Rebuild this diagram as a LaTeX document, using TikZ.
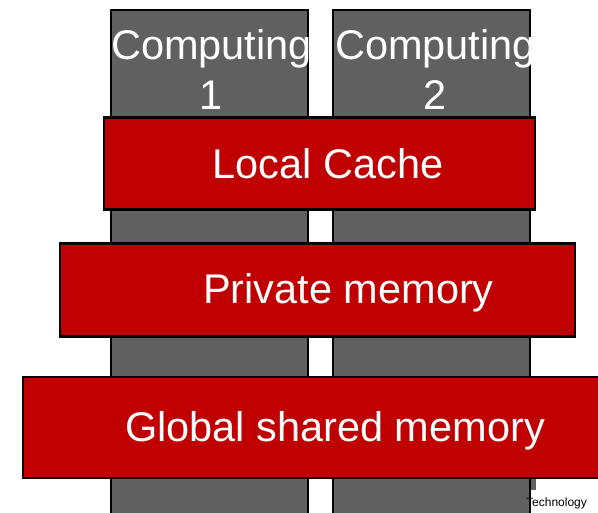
\documentclass[tikz,border=0pt]{standalone}
\usepackage{fontspec}
\setmainfont{Liberation Sans}
\usetikzlibrary{positioning}
\definecolor{layer}{RGB}{192,0,0}
\definecolor{core}{RGB}{96,96,96}
\tikzstyle{every layer} = [draw=black, line width=2.4pt]
\tikzstyle{unit} = [rectangle, fill=core, every layer, inner sep=0pt]
\tikzstyle{memory} = [rectangle, fill=layer, every layer, inner sep=0pt, text=white, font=\fontsize{41.5}{47}\selectfont]
\tikzstyle{caption} = [text=white, align=center, font=\fontsize{41.5}{50}\selectfont, inner sep=0pt]
\newcommand{\lowered}[1]{\raisebox{-3pt}[\height][\depth]{#1}}

\begin{document}
\begin{tikzpicture}[x=1pt, y=1pt]
                    \useasboundingbox (0,0) rectangle (598,-513);
                    \clip (0,0) rectangle (598,-513);
                    % computing units
                    \node[unit, minimum width=197, minimum height=510] (comp1) at (209.5,-265) {};
                    \node[unit, minimum width=197, minimum height=510] (comp2) at (431.5,-265) {};
                    \node[caption, anchor=north] (lab1) at ([xshift=2, yshift=-20]comp1.north) {Computing\\1};
                    \node[caption, anchor=north] (lab2) at ([xshift=4, yshift=-20]comp2.north) {Computing\\2};
                    \node[rectangle, fill=core, minimum width=5, minimum height=13, inner sep=0pt, anchor=north west] (mark) at (531,-477) {};

                    % memory layers
                    \node[memory, minimum width=431, minimum height=92] (cache) at (319.5,-163.5) {\hspace{17pt}Local Cache};
                    \node[memory, minimum width=515, minimum height=93] (private) at (317.5,-290) {\hspace{62pt}\lowered{Private memory}};
                    \node[memory, minimum width=600, minimum height=101] (global) at (323,-427.5) {\hspace{24pt}\lowered{Global shared memory}};

                    \node[anchor=west, inner sep=0pt, font=\fontsize{12}{14}\selectfont] (inst) at (526,-503) {Technology};
                \end{tikzpicture}
\end{document}
